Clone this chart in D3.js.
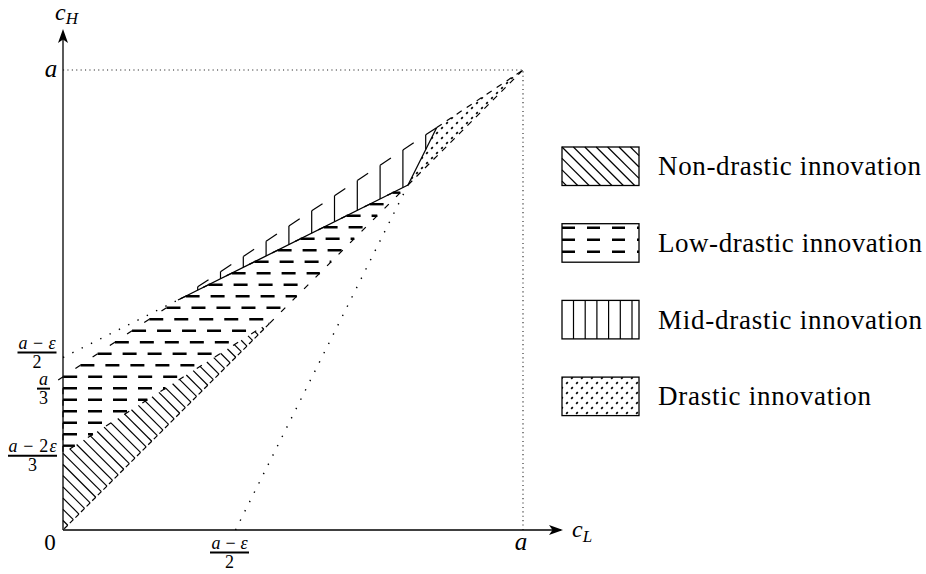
<!DOCTYPE html>
<html><head><meta charset="utf-8">
<script src="https://cdn.jsdelivr.net/npm/d3@7"></script>
<style>body{margin:0;background:#fff}svg{display:block}
text{font-family:"Liberation Serif","DejaVu Serif","Noto Serif","Times New Roman",serif}</style>
</head><body>
<svg id="chart" width="926" height="574"></svg>
<script>
// ---------------- data (a = 1, epsilon ~ 0.25) ----------------
const nonDrastic = [[0,0],[0,0.167],[0.456,0.456]];
const lowDrastic = [[0,0.167],[0,0.333],[0.25,0.5],[0.75,0.75],[0.456,0.456]];
const midDrastic = [[0.25,0.5],[0.8125,0.875],[0.75,0.75]];
const drastic    = [[0.75,0.75],[0.8125,0.875],[1,1]];
const guideDotted  = [[[0,1],[1,1]], [[1,0],[1,1]]];
const sparseDotted = [[[0,0.375],[0.25,0.5]], [[0.375,0],[0.75,0.75]]];
const solidLines   = [[[0.25,0.5],[0.75,0.75]], [[0.75,0.75],[0.8125,0.875]]];
const dashedLines  = [[[0.8125,0.875],[1,1]], [[0.75,0.75],[1,1]]];
const yTickValues = [1, 0.375, 0.333, 0.167, 0];
const yTickNums   = ["a", "a−ε", "a", "a−2ε", "0"];
const yTickDens   = [null, "2", "3", "3", null];
const xTickValues = [0.375, 1];
const xTickNums   = ["a−ε", "a"];
const xTickDens   = ["2", null];
const legendLabels = ["Non-drastic innovation","Low-drastic innovation","Mid-drastic innovation","Drastic innovation"];

// ---------------- layout ----------------
const svg = d3.select("#chart");
const x = d3.scaleLinear().domain([0,1]).range([63,523]);
const y = d3.scaleLinear().domain([0,1]).range([530,70]);
const toPx = pts => pts.map(p => [x(p[0]), y(p[1])]);
const line = d3.line().x(d=>x(d[0])).y(d=>y(d[1]));

function clipLine(p, d, poly){
  let t0=-Infinity, t1=Infinity, e0=-1, e1=-1;
  const n=poly.length, cx=d3.mean(poly,q=>q[0]), cy=d3.mean(poly,q=>q[1]);
  for(let i=0;i<n;i++){
    const a=poly[i], b=poly[(i+1)%n];
    let nx=-(b[1]-a[1]), ny=b[0]-a[0];
    if(nx*(cx-a[0])+ny*(cy-a[1])<0){nx=-nx;ny=-ny;}
    const num=nx*(p[0]-a[0])+ny*(p[1]-a[1]);
    const den=nx*d[0]+ny*d[1];
    if(Math.abs(den)<1e-12){ if(num<0) return null; continue; }
    const t=-num/den;
    if(den>0){ if(t>t0){t0=t;e0=i;} } else { if(t<t1){t1=t;e1=i;} }
  }
  if(!(t0<t1)) return null;
  return {a:[p[0]+d[0]*t0,p[1]+d[1]*t0], b:[p[0]+d[0]*t1,p[1]+d[1]*t1], e0, e1};
}
function hookSeg(pt, ei, poly, h, len){
  const a=poly[ei], b=poly[(ei+1)%poly.length];
  let ux=b[0]-a[0], uy=b[1]-a[1]; const L=Math.hypot(ux,uy); ux/=L; uy/=L;
  if(ux*h[0]+uy*h[1]<0){ux=-ux;uy=-uy;}
  return [pt,[pt[0]+ux*len, pt[1]+uy*len]];
}
function hatch(g, poly, d, starts, opt){
  const segs=[], hooks=[];
  const h=[-d[1], d[0]];
  starts.forEach(p=>{
    const c=clipLine(p,d,poly); if(!c) return;
    segs.push([c.a,c.b]);
    if(opt.hookEnd) hooks.push(hookSeg(c.b,c.e1,poly,h,opt.hookEnd));
    if(opt.hookStart) hooks.push(hookSeg(c.a,c.e0,poly,h,opt.hookStart));
  });
  g.selectAll(null).data(segs).enter().append("line")
    .attr("x1",s=>s[0][0]).attr("y1",s=>s[0][1]).attr("x2",s=>s[1][0]).attr("y2",s=>s[1][1])
    .attr("stroke","#000").attr("stroke-width",opt.w||1.2)
    .attr("stroke-dasharray",opt.dash||null);
  g.selectAll(null).data(hooks).enter().append("line")
    .attr("x1",s=>s[0][0]).attr("y1",s=>s[0][1]).attr("x2",s=>s[1][0]).attr("y2",s=>s[1][1])
    .attr("stroke","#000").attr("stroke-width",opt.hw||1.2);
}

const defs=svg.append("defs");
const pat=defs.append("pattern").attr("id","dots").attr("patternUnits","userSpaceOnUse")
  .attr("width",10).attr("height",10);
pat.append("path").attr("d","M1.2,8.8L2.8,7.2M6.2,3.8L7.8,2.2").attr("stroke","#000").attr("stroke-width",1.8);

const plot=svg.append("g");

// non-drastic: "\" hatch
const ndPoly=toPx(nonDrastic);
hatch(plot, ndPoly, [Math.SQRT1_2,Math.SQRT1_2], d3.range(-34,8).map(k=>[63, 453.3+11.2*k]), {hookEnd:5});

// low-drastic: dashed rows
const ldPoly=toPx(lowDrastic);
hatch(plot, ldPoly, [1,0], d3.range(-20,10).map(k=>[0, 376.7+11.5*k]), {dash:"14,11", w:2.4, hookEnd:6, hookStart:6});

// mid-drastic: vertical lines with caps
const mdPoly=toPx(midDrastic);
hatch(plot, mdPoly, [0,-1], d3.range(-6,12).map(k=>[243.3+22.8*k, 0]), {hookEnd:13});

// drastic: dots
const drPoly=toPx(drastic);
plot.append("path").attr("d","M"+drPoly.join("L")+"Z").attr("fill","url(#dots)");
plot.selectAll(null).data(dashedLines).enter().append("path").attr("d",line)
  .attr("fill","none").attr("stroke","#000").attr("stroke-width",1.2).attr("stroke-dasharray","6,6");

// reference lines
plot.selectAll(null).data(guideDotted).enter().append("path").attr("d",line)
  .attr("fill","none").attr("stroke","#222").attr("stroke-width",1.1).attr("stroke-dasharray","1.1,3.3");
plot.selectAll(null).data(sparseDotted).enter().append("path").attr("d",line)
  .attr("fill","none").attr("stroke","#000").attr("stroke-width",1.4).attr("stroke-dasharray","1.4,9");
plot.selectAll(null).data(solidLines).enter().append("path").attr("d",line)
  .attr("fill","none").attr("stroke","#000").attr("stroke-width",1.3);

// axes
const ax=svg.append("g");
ax.append("line").attr("x1",x(0)).attr("y1",y(0)).attr("x2",x(1)+38).attr("y2",y(0)).attr("stroke","#000").attr("stroke-width",1.3);
ax.append("line").attr("x1",x(0)).attr("y1",y(0)).attr("x2",x(0)).attr("y2",y(1)-38).attr("stroke","#000").attr("stroke-width",1.3);
const xe=x(1)+40, ye=y(1)-41;
ax.append("path").attr("d",`M${xe},${y(0)}L${xe-14},${y(0)-5}L${xe-10.5},${y(0)}L${xe-14},${y(0)+5}Z`).attr("fill","#000");
ax.append("path").attr("d",`M${x(0)},${ye}L${x(0)-5},${ye+14}L${x(0)},${ye+10.5}L${x(0)+5},${ye+14}Z`).attr("fill","#000");

function mathText(g, str, cx, base, size, len){
  const t=g.append("text").attr("x",cx).attr("y",base)
    .attr("font-size",size).attr("text-anchor","middle");
  for(const ch of str){
    const it=/[a-zA-Zε]/.test(ch);
    t.append("tspan").attr("font-style",it?"italic":"normal").text(ch==="−"?"\u2009−\u2009":ch);
  }
  if(len) t.attr("textLength",len).attr("lengthAdjust","spacing");
  return t;
}
function label(g, num, den, cx, pos, lay){
  if(!den){ mathText(g, num, cx, pos+lay.dy, lay.size||24); return; }
  const bar=pos+lay.dy;
  mathText(g, num, cx, bar-3.5, 18, lay.numLen);
  g.append("line").attr("x1",cx-lay.bw/2).attr("x2",cx+lay.bw/2).attr("y1",bar).attr("y2",bar)
    .attr("stroke","#000").attr("stroke-width",2);
  mathText(g, den, cx, bar+15, 18);
}
const labs=svg.append("g");
const yLay=[{cx:51,dy:7,size:25},{cx:37,dy:-5,bw:39,numLen:37},{cx:43.5,dy:11.8,bw:13},{cx:32.5,dy:2.5,bw:49,numLen:48},{cx:50,dy:20,size:23}];
yTickValues.forEach((v,i)=>label(labs, yTickNums[i], yTickDens[i], yLay[i].cx, y(v), yLay[i]));
const xLay=[{cx:-6,dy:22.5,bw:39,numLen:36},{cx:-2,dy:20,size:25}];
xTickValues.forEach((v,i)=>label(labs, xTickNums[i], xTickDens[i], x(v)+xLay[i].cx, y(0), xLay[i]));

const tH=labs.append("text").attr("x",55).attr("y",20).attr("font-style","italic");
tH.append("tspan").attr("font-size",24).text("c");
tH.append("tspan").attr("font-size",17).attr("dy",4).text("H");
const tL=labs.append("text").attr("x",572).attr("y",537).attr("font-style","italic");
tL.append("tspan").attr("font-size",24).text("c");
tL.append("tspan").attr("font-size",17).attr("dy",5).text("L");

const leg=svg.append("g");
const lens=[263,264,264,213];
legendLabels.forEach((lab,i)=>{
  const bx=562, by=147+i*76.7, bw=77, bh=38.5;
  const box=[[bx,by],[bx+bw,by],[bx+bw,by+bh],[bx,by+bh]];
  const g=leg.append("g");
  if(i===0) hatch(g, box, [Math.SQRT1_2,Math.SQRT1_2], d3.range(-6,10).map(k=>[bx+11.4*k, by]), {});
  if(i===1) hatch(g, box, [1,0], d3.range(0,3).map(k=>[bx, by+4+12*k]), {dash:"13,12", w:2.4});
  if(i===2) hatch(g, box, [0,-1], d3.range(0,6).map(k=>[bx+11.5+11.7*k, 0]), {});
  if(i===3) g.append("rect").attr("x",bx).attr("y",by).attr("width",bw).attr("height",bh).attr("fill","url(#dots)");
  g.append("rect").attr("x",bx).attr("y",by).attr("width",bw).attr("height",bh)
    .attr("fill","none").attr("stroke","#000").attr("stroke-width",1.3);
  g.append("text").attr("x",658).attr("y",by+bh/2+9).attr("font-size",27)
    .attr("textLength",lens[i]).attr("lengthAdjust","spacing").text(lab);
});
</script>
</body></html>
